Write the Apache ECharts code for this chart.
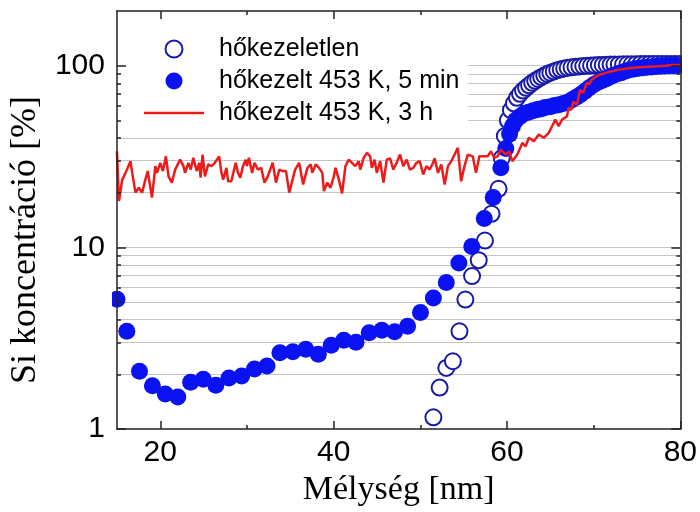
<!DOCTYPE html>
<html>
<head>
<meta charset="utf-8">
<script src="https://cdn.jsdelivr.net/npm/echarts@6/dist/echarts.min.js"></script>
<style>html,body{margin:0;padding:0;background:#fff}#c{width:700px;height:512px}</style>
</head>
<body>
<div id="c"></div>
<script>
// ---- data ----
var seriesNames = ['hőkezeletlen', 'hőkezelt 453 K, 5 min', 'hőkezelt 453 K, 3 h'];

var openDepth = [51.51,52.23,53.0,53.76,54.52,55.2,55.97,56.74,57.46,58.22,59.03,59.40,59.75,60.10,60.45,60.80,61.15,61.50,61.85,62.20,62.55,62.90,63.25,63.60,63.95,64.30,64.65,65.00,65.40,65.80,66.20,66.60,67.00,67.45,67.90,68.35,68.80,69.25,69.70,70.15,70.60,71.05,71.50,71.95,72.40,72.90,73.40,73.90,74.40,74.90,75.40,75.90,76.40,76.90,77.40,77.90,78.40,78.90,79.40,79.90];
var openConc  = [1.16,1.69,2.17,2.36,3.45,5.16,6.95,8.5,10.9,15.3,21,31,41,50,57,62,66.5,70,73,75.5,78,80.5,82.5,84.5,86.5,88.3,90,91.5,93,94.5,95.5,96.5,97.3,98,98.6,99.1,99.5,99.9,100.2,100.5,100.8,101,101.2,101.4,101.5,101.6,101.7,101.8,101.8,101.9,102,102,102,102.1,102.1,102.2,102.2,102.2,102.3,102.3];

var filledDepth = [15.0,16.14,17.6,19.09,20.57,22.02,23.5,24.96,26.41,27.93,29.39,30.87,32.31,33.8,35.29,36.78,38.23,39.72,41.17,42.58,44.10,45.56,47.04,48.53,50.02,51.51,53.0,54.45,55.94,57.38,58.41,59.29,59.86,60.3,60.63,61.0,61.5,62.0,62.5,63.0,63.5,64.0,64.4,65.0,65.5,66.0,66.5,67.0,67.5,68.0,68.5,69.0,69.5,70.0,70.5,71.0,71.4,71.8,72.3,72.8,73.2,73.7,74.2,74.7,75.2,75.7,76.2,76.7,77.2,77.7,78.2,78.7,79.2,79.7];
var filledConc  = [5.18,3.45,2.08,1.73,1.56,1.50,1.81,1.88,1.74,1.91,1.96,2.14,2.22,2.63,2.66,2.75,2.58,2.89,3.08,3.0,3.39,3.50,3.43,3.68,4.38,5.26,6.4,8.2,10.1,14.4,18.8,27.4,35,42,46.4,50,52.5,54.5,55.5,56.5,57.3,58,58.8,59.5,60.3,61,62,63,65,67,69.5,72.3,75.5,78.5,81,83,84.5,86.5,88.5,90.5,91.5,93.5,95,96,96.8,97.5,98,98.5,99,99.3,99.6,99.8,100,100.2];

var redDepth = [15.0,15.23,15.61,15.99,16.56,16.76,17.14,17.52,17.90,18.28,18.55,19.04,19.43,19.62,20.00,20.30,20.65,20.95,21.33,21.72,22.29,22.67,22.86,23.24,23.51,23.81,24.20,24.50,24.65,24.88,25.15,25.53,25.91,26.29,26.79,27.06,27.25,27.63,27.82,28.20,28.70,28.97,29.23,29.54,29.84,29.99,30.22,30.60,30.87,31.25,31.64,32.02,32.40,32.97,33.35,33.73,34.11,34.50,34.88,35.56,36.02,36.48,36.98,37.36,
  37.54,37.93,38.31,38.69,38.88,39.26,39.64,40.02,40.22,40.60,40.98,41.36,41.74,42.12,42.50,42.89,43.08,43.46,43.84,44.22,44.41,44.72,44.98,45.37,45.75,46.13,46.51,46.89,47.27,47.66,48.04,48.42,48.80,49.18,49.56,49.94,50.33,50.71,51.09,51.47,51.66,52.04,52.42,52.81,53.19,53.57,53.95,54.33,54.71,55.10,55.48,56.05,56.43,56.81,57.19,57.77,58.15,58.53,58.91,
  59.28,59.86,60.24,60.62,61.19,61.5,61.77,62.15,62.53,63.1,63.67,64.24,64.82,65.2,65.58,65.96,66.35,66.92,67.11,67.4,67.68,68.06,68.44,68.82,69.2,69.5,69.78,70.35,70.8,71.3,71.8,72.3,72.8,73.3,73.8,74.3,74.8,75.3,75.8,76.3,76.8,77.3,77.8,78.3,78.8,79.3,80.0];
var redConc = [33.8,18.0,23.6,25.7,29.8,25.7,20.0,21.3,20.0,23.6,26.3,18.8,28.0,25.7,29.2,26.3,31.7,24.6,22.7,26.8,30.4,28.0,25.7,29.2,26.8,31.1,26.3,29.2,24.2,32.4,24.6,28.6,28.0,29.2,31.7,25.7,23.6,27.4,23.1,23.1,29.2,25.7,24.2,28.0,30.4,28.0,31.1,25.7,29.2,26.8,27.4,22.7,24.6,29.2,22.7,26.8,26.3,26.3,20.0,26.8,29.2,22.2,27.4,28.6,
  25.7,28.6,27.4,25.7,20.4,22.7,21.3,24.6,27.4,23.6,19.8,28.0,30.4,29.2,28.0,29.8,26.8,31.1,33.1,31.7,27.4,30.4,25.7,29.8,22.7,30.4,30.9,26.8,29.2,32.4,28.0,30.4,26.8,27.4,29.2,29.8,25.2,28.0,26.8,29.2,30.9,25.7,28.6,22.2,28.0,29.8,32.4,35.3,23.1,28.0,32.4,31.7,25.7,31.7,31.7,31.7,33.8,31.1,31.7,
  34.5,32.4,33.8,29.8,32.4,35.0,37.6,36.0,40.1,38.4,41.8,40.1,42.7,46.4,50.5,46.4,50.5,52.6,58.7,57.0,63.5,60.8,73.6,71.0,80.4,79.0,83.8,87.6,89.5,91,92.5,93.5,95,95.5,96.5,97,97.5,98,98.3,98.7,99,99.2,99.6,100,100.5,100.8,101];

var xMajorTicks = [20, 40, 60, 80];
var xMinorTicks = [30, 50, 70];
var yMajorTicks = [1, 10, 100];
var yMinorTicks = [2,3,4,5,6,7,8,9,20,30,40,50,60,70,80,90];
var yGridValues = [2,3,4,5,6,7,8,9,10,20,30,40,50,60,70,80,90,100];

function zip(a, b) { return a.map(function (v, i) { return [v, b[i]]; }); }

var AX = '#222';
var sans = 'Liberation Sans';
var serif = 'Liberation Serif';

function xAx(pos, ticks, len, opts) {
  return Object.assign({
    type: 'value', min: 15, max: 80, position: pos, z: 10,
    axisLine: { show: false },
    axisTick: { show: true, inside: true, length: len, customValues: ticks, lineStyle: { color: AX, width: 1.5 } },
    axisLabel: { show: false },
    splitLine: { show: false }
  }, opts || {});
}
function yAx(pos, ticks, len, opts) {
  return Object.assign({
    type: 'log', logBase: 10, min: 1, max: 200, position: pos, z: 10,
    axisLine: { show: false },
    axisTick: { show: true, inside: true, length: len, customValues: ticks, lineStyle: { color: AX, width: 1.5 } },
    axisLabel: { show: false },
    splitLine: { show: false }
  }, opts || {});
}

var chart = echarts.init(document.getElementById('c'), null, { renderer: 'canvas' });
chart.setOption({
  animation: false,
  backgroundColor: '#fff',
  grid: { left: 113, right: 19, top: 11, bottom: 83, containLabel: false },
  xAxis: [
    xAx('bottom', xMajorTicks, 8, {
      axisLine: { show: true, lineStyle: { color: AX, width: 1.5 } },
      axisLabel: { show: true, customValues: xMajorTicks, fontSize: 30, fontFamily: sans, color: '#000', margin: 9 },
      name: 'Mélység [nm]', nameLocation: 'middle', nameGap: 41,
      nameTextStyle: { fontFamily: serif, fontSize: 34, color: '#000' }
    }),
    xAx('bottom', xMinorTicks, 4),
    xAx('top', xMajorTicks, 8, { axisLine: { show: true, lineStyle: { color: AX, width: 1.5 } } }),
    xAx('top', xMinorTicks, 4)
  ],
  yAxis: [
    {
      type: 'log', logBase: 10, min: 1, max: 200, position: 'left', z: 0,
      axisLine: { show: false },
      axisTick: { show: false, customValues: yGridValues },
      axisLabel: { show: false },
      splitLine: { show: true, lineStyle: { color: '#c4c4c4', width: 1 } }
    },
    yAx('left', yMajorTicks, 9, {
      axisLine: { show: true, lineStyle: { color: AX, width: 1.5 } },
      axisLabel: { show: true, customValues: yMajorTicks, fontSize: 30, fontFamily: sans, color: '#000', margin: 12 },
      name: 'Si koncentráció [%]', nameLocation: 'middle', nameGap: 55, nameRotate: 90,
      nameTextStyle: { fontFamily: serif, fontSize: 36, color: '#000', padding: [0, 40, 0, 0] }
    }),
    yAx('left', yMinorTicks, 4),
    yAx('right', yMajorTicks, 9, { axisLine: { show: true, lineStyle: { color: AX, width: 1.5 } } }),
    yAx('right', yMinorTicks, 4)
  ],
  legend: {
    orient: 'vertical', left: 117, top: 12,
    padding: [24, 9, 5, 27],
    backgroundColor: '#fff',
    itemWidth: 60, itemHeight: 17, itemGap: 6,
    textStyle: { fontSize: 25, fontFamily: sans, color: '#000', lineHeight: 26, padding: [0, 0, 0, 10] },
    data: [
      { name: seriesNames[0] },
      { name: seriesNames[1] },
      { name: seriesNames[2], icon: 'path://M0,0 L60,0 L60,2.5 L0,2.5 Z' }
    ]
  },
  graphic: [
    { type: 'rect', left: 0, top: 0, shape: { width: 112, height: 430 }, style: { fill: '#fff' }, z: 5, silent: true },
    { type: 'rect', right: 0, top: 0, shape: { width: 18, height: 430 }, style: { fill: '#fff' }, z: 5, silent: true }
  ],
  series: [
    {
      name: seriesNames[0], type: 'scatter', xAxisIndex: 0, yAxisIndex: 0,
      symbol: 'emptyCircle', symbolSize: 16,
      itemStyle: { color: '#1a1aa8', borderWidth: 1.5, opacity: 1 },
      data: zip(openDepth, openConc), z: 2
    },
    {
      name: seriesNames[1], type: 'scatter', xAxisIndex: 0, yAxisIndex: 0,
      symbol: 'circle', symbolSize: 17,
      itemStyle: { color: '#0a12f2', opacity: 1 },
      data: zip(filledDepth, filledConc), z: 3
    },
    {
      name: seriesNames[2], type: 'line', xAxisIndex: 0, yAxisIndex: 0,
      symbol: 'none', showSymbol: false,
      lineStyle: { color: '#ec1c1c', width: 2.5 }, itemStyle: { color: '#ec1c1c' },
      data: zip(redDepth, redConc), z: 4
    }
  ]
});
</script>
</body>
</html>
